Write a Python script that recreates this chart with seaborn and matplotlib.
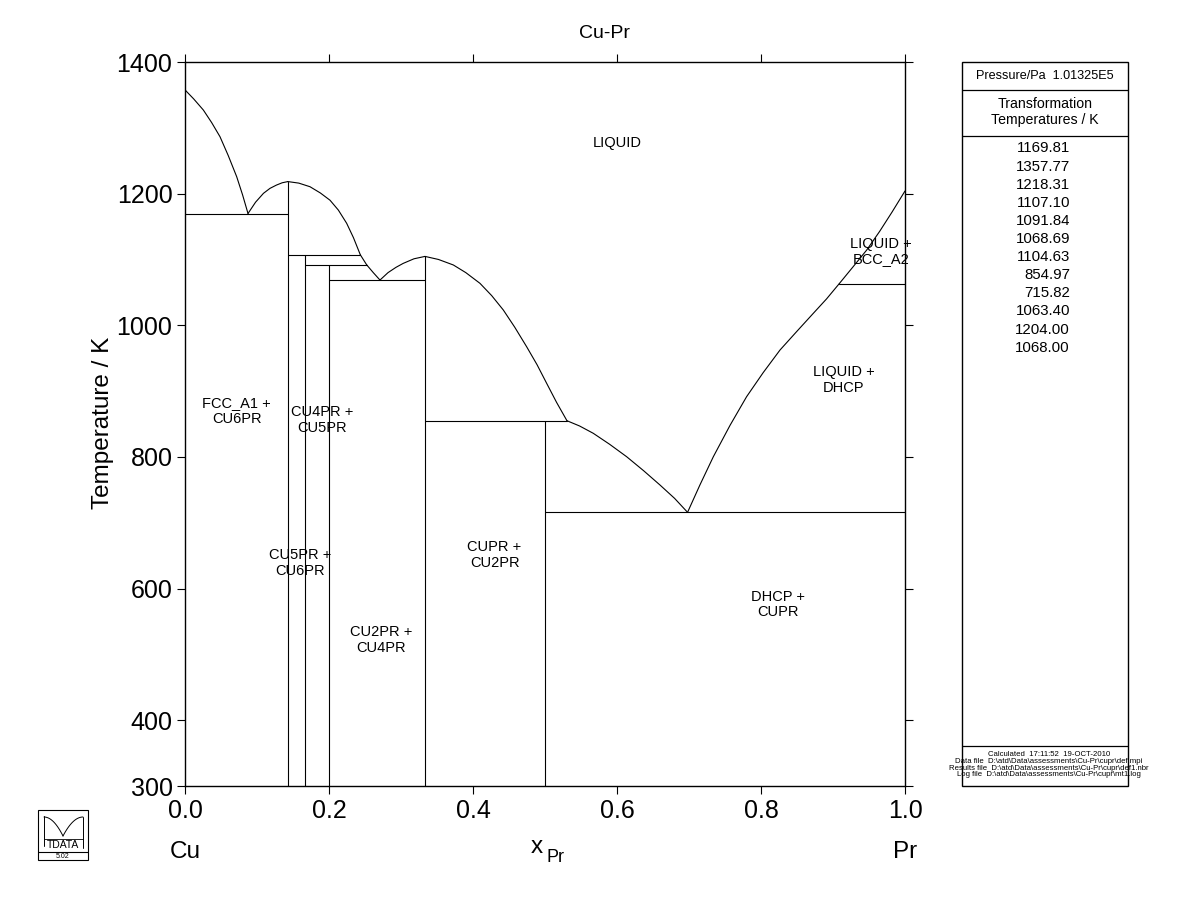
import numpy as np
import pandas as pd
import matplotlib
matplotlib.use("Agg")
import matplotlib.pyplot as plt
import matplotlib.patches as mpatches
import seaborn as sns

# ---------------- data ----------------
title = "Cu-Pr"
yticks = [300, 400, 600, 800, 1000, 1200, 1400]
xticks = [0.0, 0.2, 0.4, 0.6, 0.8, 1.0]

# liquidus branches (x_Pr, T/K)
liq_cu_x = [0.0, 0.0023, 0.012, 0.0255, 0.037, 0.0486, 0.060, 0.0718, 0.080, 0.0875]
liq_cu_T = [1357.77, 1355, 1344, 1327, 1308, 1286.5, 1258, 1225.7, 1198, 1169.81]
liq_cu6a_x = [0.0875, 0.098, 0.109, 0.118, 0.127, 0.135, 1 / 7]
liq_cu6a_T = [1169.81, 1187, 1200.5, 1208, 1213, 1216.5, 1218.31]
liq_cu6b_x = [1 / 7, 0.158, 0.1736, 0.188, 0.2014, 0.213, 0.2245, 0.234, 0.2435]
liq_cu6b_T = [1218.31, 1216, 1210.5, 1201, 1190, 1175, 1155, 1133, 1107.10]
liq_cu5_x = [0.2435, 0.2523]
liq_cu5_T = [1107.10, 1091.84]
liq_cu4_x = [0.2523, 0.2615, 0.2708]
liq_cu4_T = [1091.84, 1080, 1068.69]
liq_cu2a_x = [0.2708, 0.282, 0.293, 0.303, 0.318, 1 / 3]
liq_cu2a_T = [1068.69, 1080, 1088, 1094, 1101, 1104.63]
liq_cu2b_x = [1 / 3, 0.352, 0.3727, 0.39, 0.4097, 0.426, 0.4421, 0.458, 0.4745, 0.489, 0.5023, 0.516, 0.5305]
liq_cu2b_T = [1104.63, 1100, 1091.6, 1080, 1063.7, 1045, 1023.2, 997, 967.4, 940, 911.8, 883, 854.97]
liq_cupr_x = [0.5305, 0.548, 0.567, 0.59, 0.6134, 0.637, 0.6597, 0.68, 0.698]
liq_cupr_T = [854.97, 847, 835.9, 819, 800.3, 779, 757.3, 737, 715.82]
liq_dhcp_x = [0.698, 0.715, 0.7338, 0.757, 0.780, 0.803, 0.8264, 0.85, 0.8727, 0.891, 0.9088]
liq_dhcp_T = [715.82, 757, 800.3, 848, 891.5, 928, 962.4, 991, 1018.2, 1040, 1063.40]
liq_bcc_x = [0.9088, 0.928, 0.9468, 0.965, 0.982, 1.0]
liq_bcc_T = [1063.40, 1089, 1114.3, 1143, 1172, 1204.00]

# invariant (horizontal) lines
inv_T = [1169.81, 1107.10, 1091.84, 1068.69, 854.97, 715.82, 1063.40]
inv_x0 = [0.0, 1 / 7, 1 / 6, 0.2, 1 / 3, 0.5, 0.9088]
inv_x1 = [1 / 7, 0.2435, 0.2523, 1 / 3, 0.5305, 1.0, 1.0]

# compound (vertical) lines
comp_x = [1 / 7, 1 / 6, 0.2, 1 / 3, 0.5]
comp_Ttop = [1218.31, 1107.10, 1091.84, 1104.63, 854.97]
T_min = 300

# region labels
lab_text = ["LIQUID", "LIQUID +\nBCC_A2", "LIQUID +\nDHCP", "FCC_A1 +\nCU6PR",
            "CU4PR +\nCU5PR", "CU5PR +\nCU6PR", "CU2PR +\nCU4PR", "CUPR +\nCU2PR",
            "DHCP +\nCUPR"]
lab_x = [0.600, 0.967, 0.915, 0.072, 0.190, 0.160, 0.272, 0.430, 0.824]
lab_T = [1277, 1112, 917, 870, 856, 639, 522, 651, 576]

# side panel
pressure_text = "Pressure/Pa  1.01325E5"
panel_header = "Transformation\nTemperatures / K"
trans_temps = ["1169.81", "1357.77", "1218.31", "1107.10", "1091.84", "1068.69",
               "1104.63", "854.97", "715.82", "1063.40", "1204.00", "1068.00"]
footer_lines = ["Calculated  17:11:52  19-OCT-2010",
                "Data file  D:\\atd\\Data\\assessments\\Cu-Pr\\cupr\\def.mpi",
                "Results file  D:\\atd\\Data\\assessments\\Cu-Pr\\cupr\\def1.nbr",
                "Log file  D:\\atd\\Data\\assessments\\Cu-Pr\\cupr\\mt1.log"]

# ---------------- build long table ----------------
rows = []
seg = 0
for xs, Ts in [(liq_cu_x, liq_cu_T), (liq_cu6a_x, liq_cu6a_T), (liq_cu6b_x, liq_cu6b_T),
               (liq_cu5_x, liq_cu5_T), (liq_cu4_x, liq_cu4_T), (liq_cu2a_x, liq_cu2a_T),
               (liq_cu2b_x, liq_cu2b_T), (liq_cupr_x, liq_cupr_T), (liq_dhcp_x, liq_dhcp_T),
               (liq_bcc_x, liq_bcc_T)]:
    for x, T in zip(xs, Ts):
        rows.append((seg, x, T))
    seg += 1
for T, a, b in zip(inv_T, inv_x0, inv_x1):
    rows.append((seg, a, T)); rows.append((seg, b, T)); seg += 1
for x, Tt in zip(comp_x, comp_Ttop):
    rows.append((seg, x, T_min)); rows.append((seg, x, Tt)); seg += 1
df = pd.DataFrame(rows, columns=["seg", "x", "T"])

# ---------------- plot ----------------
sns.set_theme(style="white")
REG = ["Liberation Sans", "DejaVu Sans"]
plt.rcParams["font.family"] = REG
plt.rcParams["text.color"] = "black"
plt.rcParams["axes.labelcolor"] = "black"
plt.rcParams["xtick.color"] = "black"
plt.rcParams["ytick.color"] = "black"

fig = plt.figure(figsize=(12, 9.23), dpi=100)
ax = fig.add_axes([185 / 1200, 1 - 786 / 923, 720 / 1200, 724 / 923])

sns.lineplot(data=df, x="x", y="T", units="seg", estimator=None, sort=False,
             color="black", linewidth=0.8, ax=ax, legend=False)

ax.set_xlim(0, 1)
ax.set_ylim(300, 1400)
ax.set_xticks(xticks)
ax.set_yticks(yticks)
ax.set_xticklabels([f"{v:.1f}" for v in xticks], fontsize=18, color="black")
ax.set_yticklabels([str(v) for v in yticks], fontsize=18, color="black")
ax.tick_params(axis="both", direction="out", length=6, width=0.8, color="black",
               labelcolor="black", top=True, right=True, bottom=True, left=True, pad=3,
               labeltop=False, labelright=False)
for s in ax.spines.values():
    s.set_visible(True)
    s.set_color("black")
    s.set_linewidth(1.0)
ax.set_xlabel("")
ax.set_ylabel("")

fig.text(605 / 1200, 1 - 34 / 923, title, ha="center", va="center", fontsize=14, color="black")
fig.text(103 / 1200, 1 - 423 / 923, "Temperature / K", ha="center", va="center",
         rotation=90, fontsize=17.5, color="black")

for t, x, T in zip(lab_text, lab_x, lab_T):
    ax.text(x, T, t, ha="center", va="center", fontsize=10.5, linespacing=1.15, color="black")

# bottom labels
fig.text(185 / 1200, 1 - 852 / 923, "Cu", ha="center", va="center", fontsize=17.5, color="black")
fig.text(905 / 1200, 1 - 852 / 923, "Pr", ha="center", va="center", fontsize=17.5, color="black")
fig.text(543 / 1200, 1 - 847 / 923, "x", ha="right", va="center", fontsize=17.5, color="black")
fig.text(546 / 1200, 1 - 857 / 923, "Pr", ha="left", va="center", fontsize=13, color="black")

# ---------------- side panel ----------------
pl, pr_, pt, pb = 962, 1128, 62, 786
pax = fig.add_axes([pl / 1200, 1 - pb / 923, (pr_ - pl) / 1200, (pb - pt) / 923])
W = pr_ - pl
H = pb - pt
pax.set_xlim(0, W)
pax.set_ylim(H, 0)
pax.axis("off")
pax.add_patch(mpatches.Rectangle((0, 0), W, H, fill=False, edgecolor="black", lw=1.0, clip_on=False))
for yy in [28, 74, 684]:
    pax.plot([0, W], [yy, yy], color="black", lw=0.9)
pax.text(W / 2, 14, pressure_text, ha="center", va="center", fontsize=9.1, color="black")
pax.text(W / 2, 50, panel_header, ha="center", va="center", fontsize=10.2, linespacing=1.2, color="black")
for i, v in enumerate(trans_temps):
    pax.text(108, 86.5 + i * 18.1, v, ha="right", va="center", fontsize=10.8, color="black")
for i, line in enumerate(footer_lines):
    pax.text(W / 2 + 4, 693 + i * 6.6, line, ha="center", va="center", fontsize=5.6,
             clip_on=False, color="black")

# ---------------- logo ----------------
lax = fig.add_axes([38 / 1200, 1 - 860 / 923, 50 / 1200, 50 / 923])
lax.set_xlim(0, 50)
lax.set_ylim(50, 0)
lax.axis("off")
lax.add_patch(mpatches.Rectangle((0, 0), 50, 50, fill=False, edgecolor="black", lw=0.8, clip_on=False))
lax.plot([0, 50], [42, 42], color="black", lw=0.8)
lax.plot([6, 6], [6, 36], color="black", lw=0.7)
tt = np.linspace(0, 1, 30)
lax.plot(6 + 19 * tt, 7 + 19 * tt ** 2, color="black", lw=0.7)
lax.plot(25 + 20 * tt, 26 - 19 * (1 - (1 - tt) ** 2), color="black", lw=0.7)
lax.plot([45, 45], [7, 38], color="black", lw=0.7)
lax.plot([6, 45], [29, 29], color="black", lw=0.6)
lax.text(25, 34.5, "TDATA", ha="center", va="center", fontsize=7.5, color="black")
lax.text(25, 46.5, "5.02", ha="center", va="center", fontsize=5.0, color="black")

fig.savefig("out.png", dpi=100, facecolor="white")
